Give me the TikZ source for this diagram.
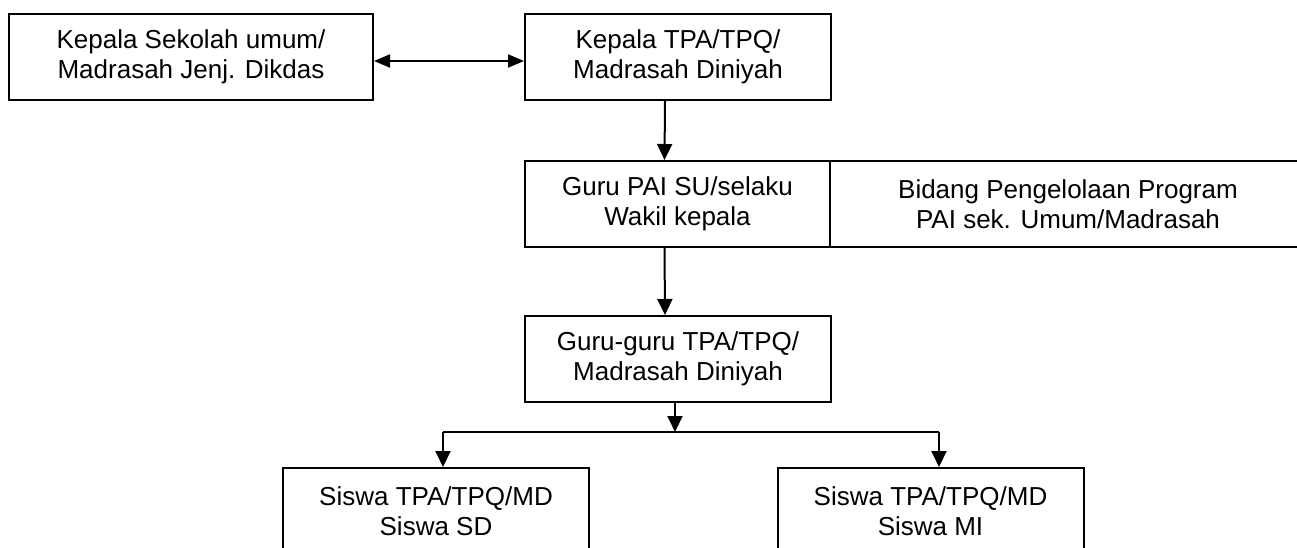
\documentclass[tikz,border=0pt]{standalone}
\usepackage{fontspec}
\setmainfont{Liberation Sans}
\usetikzlibrary{arrows.meta}
\begin{document}
\begin{tikzpicture}[x=1pt,y=-1pt,
  box/.style={draw=black,line width=2pt,rectangle,inner sep=0pt,minimum height=86pt,align=center,
    font=\fontsize{26}{30}\selectfont},
  conn/.style={line width=2pt,-{Triangle[length=16pt,width=15pt]}},
  biconn/.style={line width=2pt,{Triangle[length=16pt,width=13pt]}-{Triangle[length=16pt,width=13pt]}},
  plain/.style={line width=2pt}]
\useasboundingbox (0,0) rectangle (1297,548);
\clip (0,0) rectangle (1297,548);
\node[box,minimum width=364pt] (b1) at (191,57) {Kepala Sekolah umum/\\Madrasah Jenj. Dikdas};
\node[box,minimum width=306pt] (b2) at (678,57) {Kepala TPA/TPQ/\\Madrasah Diniyah};
\node[box,minimum width=305pt] (b3l) at (677.5,204) {Guru PAI SU/selaku\\Wakil kepala};
\node[box,minimum width=476pt] (b3r) at (1068,204) {Bidang Pengelolaan Program\\PAI sek. Umum/Madrasah};
\node[box,minimum width=306pt] (b4) at (678,359) {Guru-guru TPA/TPQ/\\Madrasah Diniyah};
\node[box,minimum width=306pt] (b5) at (436,511) {Siswa TPA/TPQ/MD\\Siswa SD};
\node[box,minimum width=306pt] (b6) at (930.5,511) {Siswa TPA/TPQ/MD\\Siswa MI};
\coordinate (jl) at (443,432);
\coordinate (jr) at (939,432);
\draw[biconn] ([yshift=-4pt]b1.east) -- ([yshift=-4pt]b2.west);
\draw[conn] ([xshift=-13pt]b2.south) -- ([xshift=-13pt]b3l.north);
\draw[conn] ([xshift=-13pt]b3l.south) -- ([xshift=-13pt]b4.north);
\draw[conn] ([xshift=-3pt]b4.south) -- ([xshift=-3pt]b4.south |- jl);
\draw[plain] (jl) -- (jr);
\draw[conn] (jl) -- (jl |- b5.north);
\draw[conn] (jr) -- (jr |- b6.north);
\end{tikzpicture}
\end{document}
